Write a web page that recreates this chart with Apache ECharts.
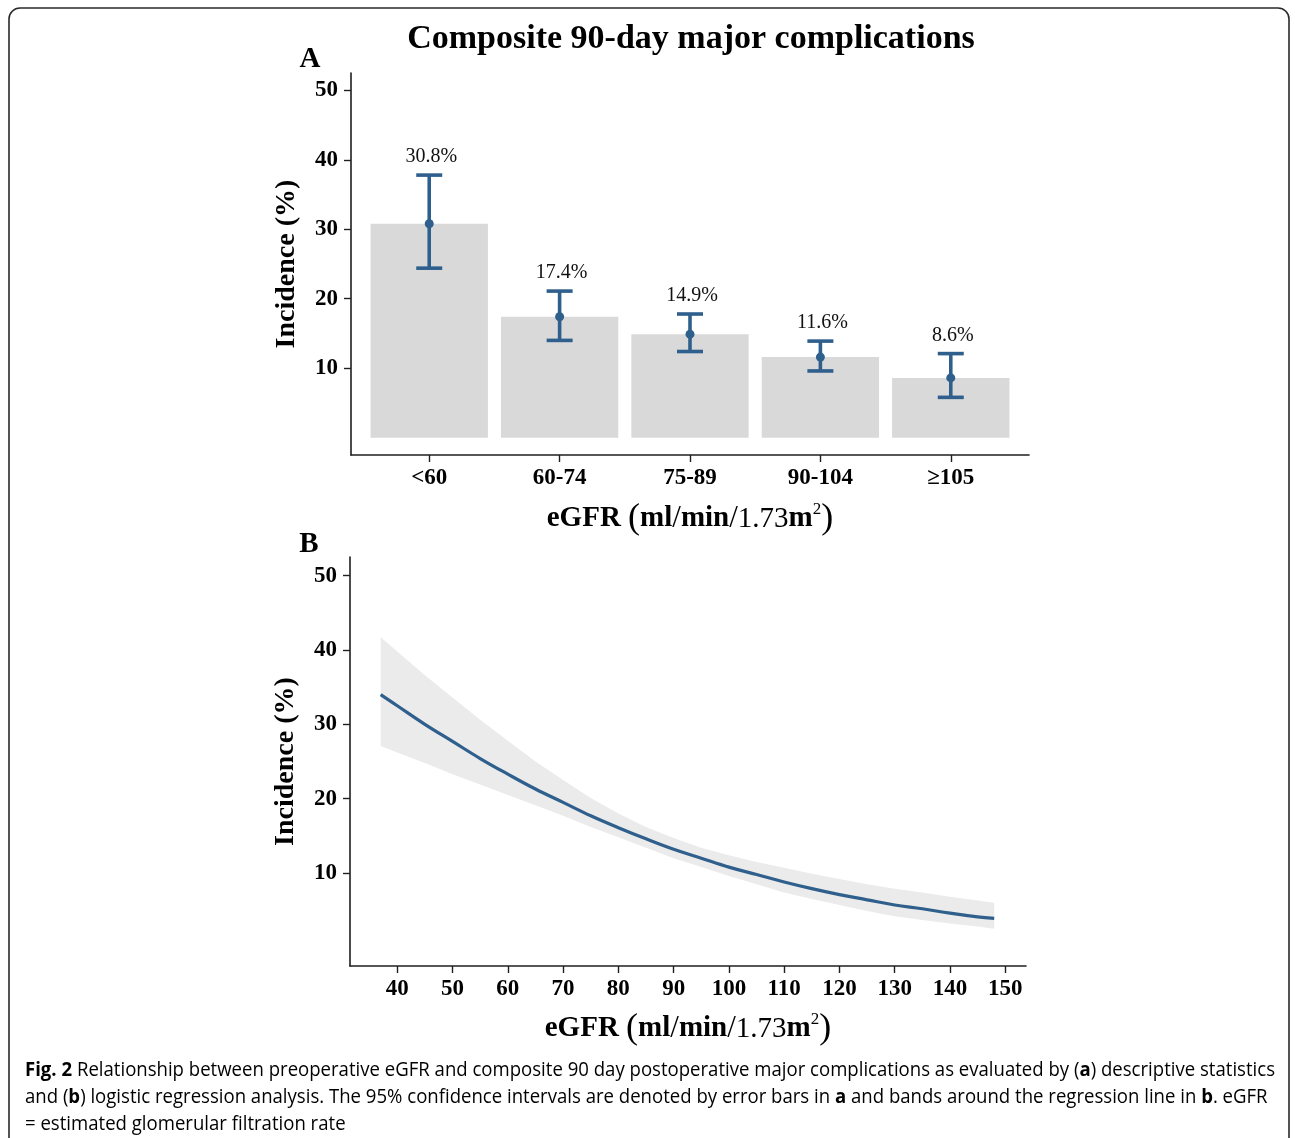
<!DOCTYPE html>
<html><head><meta charset="utf-8">
<script src="https://cdn.jsdelivr.net/npm/echarts@6/dist/echarts.min.js"></script>
<style>html,body{margin:0;padding:0;background:#fff}#c{width:1295px;height:1138px}</style>
</head><body><div id="c"></div>
<script>
// ---- Panel A data ----
const categories = ['<60', '60-74', '75-89', '90-104', '≥105'];
const incidence = [30.8, 17.4, 14.9, 11.6, 8.6];
const ciLower = [24.4, 14.0, 12.4, 9.6, 5.8];
const ciUpper = [37.8, 21.1, 17.8, 13.9, 12.1];
const barLabels = ['30.8%', '17.4%', '14.9%', '11.6%', '8.6%'];
const yTicks = [10, 20, 30, 40, 50];
// ---- Panel B data ----
const egfr =      [37, 40, 45, 50, 55, 60, 65, 70, 75, 80, 85, 90, 95, 100, 105, 110, 115, 120, 125, 130, 135, 140, 145, 148];
const fitted =    [34.0, 32.5, 30.0, 27.7, 25.4, 23.3, 21.3, 19.5, 17.7, 16.1, 14.6, 13.2, 12.0, 10.8, 9.8, 8.8, 7.9, 7.1, 6.4, 5.7, 5.2, 4.6, 4.1, 3.9];
const bandUpper = [41.7, 39.8, 36.6, 33.6, 30.6, 27.8, 25.0, 22.5, 20.1, 18.0, 16.2, 14.7, 13.4, 12.4, 11.5, 10.7, 9.9, 9.2, 8.5, 7.9, 7.4, 6.8, 6.3, 6.0];
const bandLower = [27.1, 26.2, 24.8, 23.3, 21.9, 20.5, 19.1, 17.7, 16.2, 14.8, 13.4, 12.0, 10.8, 9.6, 8.5, 7.4, 6.5, 5.7, 4.9, 4.2, 3.7, 3.2, 2.8, 2.5];
const xTicksB = [40, 50, 60, 70, 80, 90, 100, 110, 120, 130, 140, 150];

const SERIF = '"Liberation Serif", "Times New Roman", serif';
const BLUE = '#2f5f8c';
const AXIS = '#1f1f1f';

const chart = echarts.init(document.getElementById('c'), null, {renderer: 'canvas'});

const gridA = {left: 351, top: 73, width: 678, height: 382};
const gridB = {left: 350, top: 557, width: 676, height: 409};
const barW = 0.9 * gridA.width / 5.2;

const tickLabel = {fontFamily: SERIF, fontWeight: 'bold', fontSize: 23, color: '#000'};
const xName = '{b|eGFR }{p|(}{b|ml}{p2|/}{b|min}{p2|/}{r|1.73}{b|m}{s|2}{p|)}';
const xNameRich = {
  b: {fontFamily: SERIF, fontWeight: 'bold', fontSize: 29, color: '#000', lineHeight: 36},
  r: {fontFamily: SERIF, fontWeight: 'normal', fontSize: 29, color: '#000', lineHeight: 36},
  p: {fontFamily: SERIF, fontWeight: 'normal', fontSize: 36, color: '#000', lineHeight: 36},
  p2: {fontFamily: SERIF, fontWeight: 'normal', fontSize: 31, color: '#000', lineHeight: 36},
  s: {fontFamily: SERIF, fontWeight: 'normal', fontSize: 17, color: '#000', verticalAlign: 'top', lineHeight: 36}
};

function axisCommon(extra) {
  return Object.assign({
    axisLine: {show: true, onZero: false, lineStyle: {color: AXIS, width: 1.6}},
    splitLine: {show: false}
  }, extra);
}

// caption helper: scale text to the measured width of the original
const CAP_FONT = '"Open Sans", sans-serif';
const CAP_SIZE = 19.5;
const capLines = [
  [['b', 'Fig. 2'], ['n', ' Relationship between preoperative eGFR and composite 90 day postoperative major complications as evaluated by ('], ['b', 'a'], ['n', ') descriptive statistics']],
  [['n', 'and ('], ['b', 'b'], ['n', ') logistic regression analysis. The 95% confidence intervals are denoted by error bars in '], ['b', 'a'], ['n', ' and bands around the regression line in '], ['b', 'b'], ['n', '. eGFR']],
  [['n', '= estimated glomerular filtration rate']]
];
const mctx = document.createElement('canvas').getContext('2d');
function measureLine(line) {
  let w = 0;
  line.forEach(([k, t]) => {
    mctx.font = (k === 'b' ? 'bold ' : '') + CAP_SIZE + 'px ' + CAP_FONT;
    w += mctx.measureText(t).width;
  });
  return w;
}
const capScale = 1250 / measureLine(capLines[0]);
const capGraphics = capLines.map((line, i) => ({
  type: 'text', x: 25, y: 1070 + i * 27, scaleX: capScale, silent: true,
  style: {
    text: line.map(([k, t]) => '{' + k + '|' + t.replace(/[{}|]/g, '') + '}').join(''),
    verticalAlign: 'middle', align: 'left',
    rich: {
      n: {fontFamily: CAP_FONT, fontSize: CAP_SIZE, color: '#231f20'},
      b: {fontFamily: CAP_FONT, fontSize: CAP_SIZE, fontWeight: 'bold', color: '#231f20'}
    }
  }
}));

const option = {
  backgroundColor: '#fff',
  animation: false,
  grid: [gridA, gridB],
  xAxis: [
    axisCommon({
      type: 'value', gridIndex: 0, min: 0.4, max: 5.6,
      axisTick: {show: true, length: 7, customValues: [1, 2, 3, 4, 5], lineStyle: {color: AXIS, width: 1.4}},
      axisLabel: Object.assign({customValues: [1, 2, 3, 4, 5], margin: 12, formatter: v => categories[Math.round(v) - 1]}, tickLabel),
      name: xName, nameLocation: 'middle', nameGap: 46,
      nameTextStyle: {rich: xNameRich}
    }),
    axisCommon({
      type: 'value', gridIndex: 1, min: 31.45, max: 153.75,
      axisTick: {show: true, length: 7, customValues: xTicksB, lineStyle: {color: AXIS, width: 1.4}},
      axisLabel: Object.assign({customValues: xTicksB, margin: 12}, tickLabel),
      name: xName, nameLocation: 'middle', nameGap: 45,
      nameTextStyle: {rich: xNameRich}
    })
  ],
  yAxis: [
    axisCommon({
      type: 'value', gridIndex: 0, min: -2.5, max: 52.5,
      axisTick: {show: true, length: 7, customValues: yTicks, lineStyle: {color: AXIS, width: 1.4}},
      axisLabel: Object.assign({customValues: yTicks, margin: 13}, tickLabel),
      name: 'Incidence (%)', nameLocation: 'middle', nameGap: 50,
      nameTextStyle: {fontFamily: SERIF, fontWeight: 'bold', fontSize: 28, color: '#000'}
    }),
    axisCommon({
      type: 'value', gridIndex: 1, min: -2.5, max: 52.5,
      axisTick: {show: true, length: 7, customValues: yTicks, lineStyle: {color: AXIS, width: 1.4}},
      axisLabel: Object.assign({customValues: yTicks, margin: 13}, tickLabel),
      name: 'Incidence (%)', nameLocation: 'middle', nameGap: 50,
      nameTextStyle: {fontFamily: SERIF, fontWeight: 'bold', fontSize: 28, color: '#000'}
    })
  ],
  graphic: [
    {type: 'rect', silent: true, shape: {x: 9, y: 8, width: 1280, height: 1150, r: 11},
     style: {fill: 'none', stroke: '#2a2a2a', lineWidth: 1.6}},
    {type: 'text', x: 691, y: 39, silent: true,
     style: {text: 'Composite 90-day major complications', align: 'center', verticalAlign: 'middle',
             fontFamily: SERIF, fontWeight: 'bold', fontSize: 34, fill: '#000'}},
    {type: 'text', x: 310, y: 60, silent: true,
     style: {text: 'A', align: 'center', verticalAlign: 'middle', fontFamily: SERIF, fontWeight: 'bold', fontSize: 29, fill: '#000'}},
    {type: 'text', x: 309, y: 545, silent: true,
     style: {text: 'B', align: 'center', verticalAlign: 'middle', fontFamily: SERIF, fontWeight: 'bold', fontSize: 29, fill: '#000'}}
  ].concat(capGraphics),
  series: [
    {
      type: 'bar', xAxisIndex: 0, yAxisIndex: 0, silent: true,
      data: incidence.map((v, i) => [i + 1, v]),
      barWidth: barW,
      itemStyle: {color: '#d9d9d9'}
    },
    {
      type: 'custom', xAxisIndex: 0, yAxisIndex: 0, silent: true, z: 5,
      data: incidence.map((v, i) => [i + 1, v, ciLower[i], ciUpper[i], i]),
      renderItem: function (params, api) {
        const x = api.value(0);
        const pm = api.coord([x, api.value(1)]);
        const pl = api.coord([x, api.value(2)]);
        const pu = api.coord([x, api.value(3)]);
        const hw = 13;
        const ls = {stroke: BLUE, lineWidth: 3.6};
        return {
          type: 'group',
          children: [
            {type: 'line', shape: {x1: pl[0], y1: pl[1], x2: pu[0], y2: pu[1]}, style: ls},
            {type: 'line', shape: {x1: pu[0] - hw, y1: pu[1], x2: pu[0] + hw, y2: pu[1]}, style: ls},
            {type: 'line', shape: {x1: pl[0] - hw, y1: pl[1], x2: pl[0] + hw, y2: pl[1]}, style: ls},
            {type: 'circle', shape: {cx: pm[0], cy: pm[1], r: 4.5}, style: {fill: BLUE}},
            {type: 'text', x: pu[0] + 2, y: pu[1] - 18,
             style: {text: barLabels[api.value(4)], align: 'center', verticalAlign: 'middle',
                     fontFamily: SERIF, fontSize: 20, fill: '#111'}}
          ]
        };
      }
    },
    {
      type: 'custom', xAxisIndex: 1, yAxisIndex: 1, silent: true, z: 1,
      data: [[egfr[0], fitted[0]]],
      renderItem: function (params, api) {
        const pts = [];
        for (let i = 0; i < egfr.length; i++) pts.push(api.coord([egfr[i], bandUpper[i]]));
        for (let i = egfr.length - 1; i >= 0; i--) pts.push(api.coord([egfr[i], bandLower[i]]));
        return {type: 'polygon', shape: {points: pts}, style: {fill: '#ebebeb'}};
      }
    },
    {
      type: 'line', xAxisIndex: 1, yAxisIndex: 1, silent: true, z: 3,
      data: egfr.map((x, i) => [x, fitted[i]]),
      showSymbol: false, smooth: 0.4,
      lineStyle: {color: BLUE, width: 3.2}
    }
  ]
};
chart.setOption(option);
</script>
</body></html>
